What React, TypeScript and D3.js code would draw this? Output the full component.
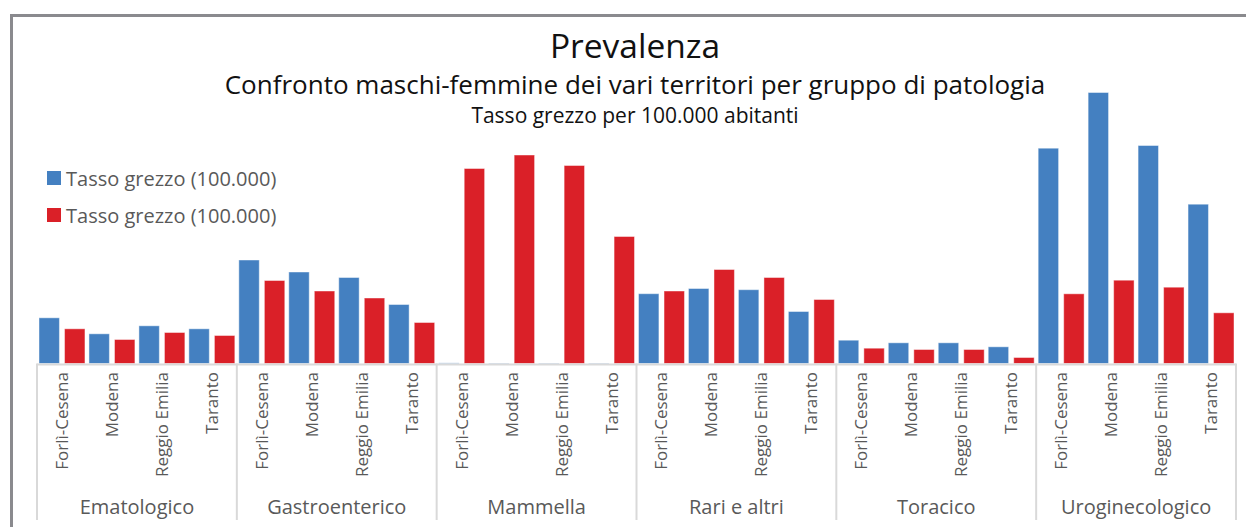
import React from 'react'
import * as d3 from 'd3'

// gruppi di patologia e territori
const groups = ['Ematologico', 'Gastroenterico', 'Mammella', 'Rari e altri', 'Toracico', 'Uroginecologico']
const territories = ['Forlì-Cesena', 'Modena', 'Reggio Emilia', 'Taranto']

// tasso grezzo per 100.000, ordine: gruppi x territori
const maschi = [
  45.7, 29.7, 37.7, 34.7,
  103.5, 91.5, 86, 59,
  0.6, 0.4, 0.4, 0.4,
  69.8, 75, 73.8, 52,
  23.3, 20.7, 20.7, 16.7,
  215.3, 271, 218, 159.3
]
const femmine = [
  34.7, 24, 31, 28,
  83, 72.5, 65.5, 41,
  195, 208.5, 198, 127,
  72.5, 94, 86, 64,
  15.3, 14, 14, 6,
  69.7, 83.3, 76.3, 50.7
]

const seriesNames = ['Tasso grezzo (100.000)', 'Tasso grezzo (100.000)']
const seriesColors = ['#4480c1', '#da2028']

const W = 1246
const H = 527
const left = 37
const right = 1236
const baseline = 363.5

export default function App() {
  const keys = groups.flatMap(g => territories.map(t => g + '|' + t))
  const x = d3.scaleBand().domain(keys).range([left, right])
  const bw = x.bandwidth()
  const xs = d3.scaleBand().domain(['m', 'f']).range([2, bw - 2]).paddingInner(0.2)
  const y = d3.scaleLinear().domain([0, 280]).range([baseline, baseline - 280])
  const groupW = bw * territories.length
  const font = "'Open Sans', sans-serif"

  return (
    <div style={{ position: 'absolute', left: 0, top: 0 }}>
      <svg width={W} height={H} style={{ display: 'block', fontFamily: font }}>
        <rect width={W} height={H} fill='#fff' />
        <rect x={11.5} y={15.5} width={1400} height={700} fill='none' stroke='#8a8a8e' strokeWidth={3} />

        <text x={635} y={58} textAnchor='middle' fontSize={33.5} fill='#111'>Prevalenza</text>
        <text x={635} y={93.5} textAnchor='middle' fontSize={26} fill='#111'>
          Confronto maschi-femmine dei vari territori per gruppo di patologia
        </text>
        <text x={635} y={123} textAnchor='middle' fontSize={21} fill='#111'>Tasso grezzo per 100.000 abitanti</text>

        {seriesNames.map((s, i) => (
          <g key={i} transform={`translate(47, ${171 + i * 37})`}>
            <rect width={14} height={14} fill={seriesColors[i]} />
            <text x={19} y={14.5} fontSize={20} fill='#595959'>{s}</text>
          </g>
        ))}

        {keys.map((k, i) => (
          <g key={k} transform={`translate(${x(k)}, 0)`}>
            {[maschi[i], femmine[i]].map((v, j) => (
              <rect
                key={j}
                x={xs(j === 0 ? 'm' : 'f')}
                y={y(v)}
                width={xs.bandwidth()}
                height={baseline - y(v)}
                fill={seriesColors[j]}
                stroke='rgba(255,255,255,0.45)'
                strokeWidth={1}
              />
            ))}
          </g>
        ))}

        <line x1={left} x2={right} y1={baseline + 1} y2={baseline + 1} stroke='#d9d9d9' strokeWidth={2} />
        {d3.range(groups.length + 1).map(i => (
          <line key={i} x1={left + i * groupW} x2={left + i * groupW} y1={baseline} y2={520} stroke='#d9d9d9' strokeWidth={2} />
        ))}

        {keys.map((k, i) => (
          <text
            key={k}
            transform={`translate(${x(k) + bw / 2 + 6}, 372) rotate(-90)`}
            textAnchor='end'
            fontSize={17}
            fill='#595959'
          >
            {territories[i % territories.length]}
          </text>
        ))}

        {groups.map((g, i) => (
          <text key={g} x={left + i * groupW + groupW / 2} y={514} textAnchor='middle' fontSize={20} fill='#595959'>
            {g}
          </text>
        ))}
      </svg>
    </div>
  )
}
